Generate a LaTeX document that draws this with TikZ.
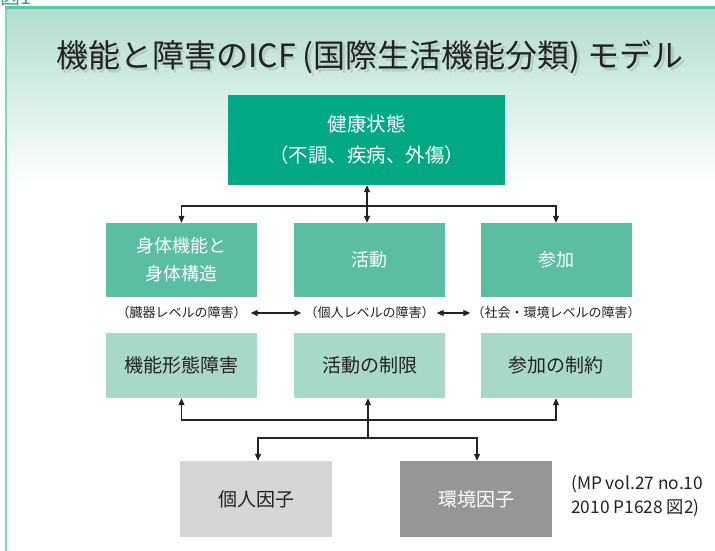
\documentclass[tikz,border=0pt]{standalone}
\usepackage{fontspec}
\setmainfont{Noto Sans CJK JP}
\usetikzlibrary{arrows.meta}
\definecolor{framec}{HTML}{5CC8A8}
\definecolor{framel}{HTML}{7FD6BE}
\definecolor{bgtop}{HTML}{B0DDCD}
\definecolor{topc}{HTML}{00A884}
\definecolor{midc}{HTML}{5BBEA2}
\definecolor{lowc}{HTML}{A8D8C8}
\definecolor{persc}{HTML}{D6D6D6}
\definecolor{envc}{HTML}{969696}
\definecolor{txt}{HTML}{222222}
\tikzset{
  box/.style={rectangle, draw=none, inner sep=0pt, align=center},
  topbox/.style={box, fill=topc, text=white, minimum width=277pt, minimum height=90pt, font=\fontsize{19.5}{31}\selectfont},
  midbox/.style={box, fill=midc, text=white, minimum width=151pt, minimum height=74pt, font=\fontsize{18}{28}\selectfont},
  lowbox/.style={box, fill=lowc, text=txt, minimum width=151pt, minimum height=65pt, font=\fontsize{19}{24}\selectfont},
  botbox/.style={box, minimum width=152pt, minimum height=76pt, font=\fontsize{19}{24}\selectfont},
  lvl/.style={inner sep=0pt, text=txt, font=\fontsize{13}{14}\selectfont},
  conn/.style={draw=txt, line width=1.1pt, -{Triangle[length=7pt,width=6pt]}},
  dconn/.style={draw=txt, line width=1.1pt, {Triangle[length=7pt,width=6pt]}-{Triangle[length=7pt,width=6pt]}},
}
\begin{document}
\begin{tikzpicture}[x=1pt,y=-1pt]
\useasboundingbox (0,0) rectangle (715,550);
\clip (0,0) rectangle (715,550);
% partial figure label at the very top
\node[anchor=base west, inner sep=0pt, text=framec!80!black, font=\fontsize{20}{20}\selectfont] (fig) at (0,4) {図1};
% background
\fill[white] (0,8) rectangle (715,550);
\shade[top color=bgtop, bottom color=white] (6,8) rectangle (715,185);
\draw[framel, line width=2pt] (6,551) -- (6,8);
\draw[framec, line width=2.5pt] (5,7.5) -- (716,7.5);
% title with shadow
\node[text=black!45, opacity=0.3, font=\fontsize{32}{33}\selectfont] (titleshadow) at (372.5,60) {機能と障害のICF (国際生活機能分類) モデル};
\node[text=txt, font=\fontsize{32}{33}\selectfont] (title) at (370,57) {機能と障害のICF (国際生活機能分類) モデル};
% boxes
\node[topbox] (health) at (366.5,140) {健康状態\\（不調、疾病、外傷）};
\node[midbox] (body) at (181.5,260) {身体機能と\\身体構造};
\node[midbox] (act) at (369.5,260) {活動};
\node[midbox] (part) at (556,260) {参加};
\node[lvl] (l1) at (181.5,313) {（臓器レベルの障害）};
\node[lvl] (l2) at (369.5,313) {（個人レベルの障害）};
\node[lvl] (l3) at (556,313) {（社会・環境レベルの障害）};
\node[lowbox] (imp) at (181.5,365.5) {機能形態障害};
\node[lowbox] (lim) at (369.5,365.5) {活動の制限};
\node[lowbox] (res) at (556,365.5) {参加の制約};
\node[botbox, fill=persc, text=txt] (pers) at (256,499) {個人因子};
\node[botbox, fill=envc, text=white] (env) at (476,499) {環境因子};
\node[anchor=west, align=left, inner sep=0pt, text=txt, font=\fontsize{17.3}{24}\selectfont] (src) at (571,496) {(MP vol.27 no.10\\2010 P1628 図2)};
% connectors top
\coordinate (hub) at (367,206);
\draw[dconn] (health.south -| hub) -- (act.north -| hub);
\draw[conn] (hub) -| (body.north);
\draw[conn] (hub) -| (part.north);
% level arrows
\draw[dconn, shorten <=4pt, shorten >=3pt] (l1.east) -- (l2.west);
\draw[dconn, shorten <=2pt, shorten >=1pt] (l2.east) -- (l3.west);
% connectors bottom
\coordinate (hubb) at (368,420);
\coordinate (hubc) at (368,438);
\draw[conn] (hubb) -| (imp.south);
\draw[conn] (hubb) -| (res.south);
\draw[conn] (hubc) -- (lim.south -| hubc);
\draw[conn] (hubc) -| ([xshift=2pt]pers.north);
\draw[conn] (hubc) -| ([xshift=1pt]env.north);
\end{tikzpicture}
\end{document}
